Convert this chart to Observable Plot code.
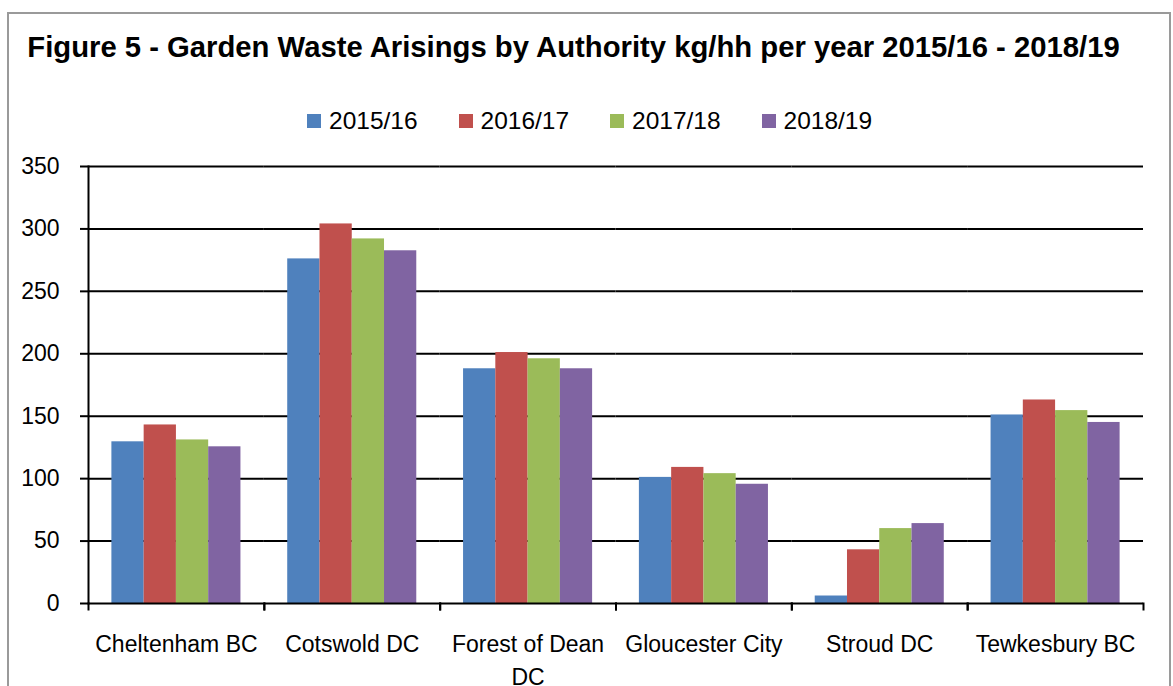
<!DOCTYPE html>
<html><head><meta charset="utf-8">
<script src="https://cdn.jsdelivr.net/npm/d3@7"></script>
<script src="https://cdn.jsdelivr.net/npm/@observablehq/plot@0.6"></script>
<style>
html,body{margin:0;padding:0;background:#fff;width:1173px;height:686px;overflow:hidden;font-family:"Liberation Sans",Arial,sans-serif;color:#000;}
#border{position:absolute;left:7px;top:12px;width:1164px;height:720px;border:2px solid #9a9a9a;box-sizing:border-box;}
#title{position:absolute;left:27px;top:30px;width:1093px;text-align:center;font-weight:bold;white-space:nowrap;font-size:25px;line-height:34px;}
#legend{position:absolute;left:307px;top:106px;height:30px;display:flex;}
.item{display:flex;align-items:center;width:151.5px;font-size:24.5px;line-height:30px;}
.sw{width:14px;height:14px;margin-right:8px;flex:none;}
#chart{position:absolute;left:0;top:150px;}
</style></head><body>
<div id="border"></div>
<div id="title"><span id="tt"></span></div>
<div id="legend"></div>
<div id="chart"></div>
<script>
const titleText = "Figure 5 - Garden Waste Arisings by Authority kg/hh per year 2015/16 - 2018/19";
const authorities = ["Cheltenham BC", "Cotswold DC", "Forest of Dean DC", "Gloucester City", "Stroud DC", "Tewkesbury BC"];
const years = ["2015/16", "2016/17", "2017/18", "2018/19"];
const values2015 = [129.5, 276, 188, 101, 6, 151];
const values2016 = [143, 304, 201, 109, 43, 163];
const values2017 = [131, 292, 196, 104, 60, 154.5];
const values2018 = [125.5, 282.5, 188, 95.5, 64, 145];
const yTicks = [0, 50, 100, 150, 200, 250, 300, 350];
const colors = ["#4F81BD", "#C0504D", "#9BBB59", "#8064A2"];

const series = [values2015, values2016, values2017, values2018];
const rows = authorities.flatMap((a, i) => years.map((y, j) => ({authority: a, year: y, value: series[j][i]})));

const wrap = d => d.length > 15 ? d.replace(/ (\S+)$/, "\n$1") : d;
const plotH = 437;

const chart = Plot.plot({
  width: 1173, height: 536,
  marginLeft: 88, marginRight: 30, marginTop: 16, marginBottom: 83,
  style: {fontFamily: '"Liberation Sans", Arial, sans-serif', fontSize: "23px", color: "#000", background: "transparent", overflow: "visible"},
  fx: {domain: authorities, padding: 0, round: false, label: null},
  x: {domain: years, paddingInner: 0, paddingOuter: 0.725, round: false, axis: null},
  y: {domain: [0, 350], label: null, axis: null},
  color: {domain: years, range: colors},
  marks: [
    Plot.ruleY(yTicks.filter(t => t > 0), {stroke: "#000", strokeWidth: 2}),
    Plot.barY(rows, {fx: "authority", x: "year", y: "value", fill: "year"}),
    Plot.ruleY([0], {stroke: "#000", strokeWidth: 2}),
    Plot.frame({anchor: "left", insetTop: plotH, insetBottom: -6, stroke: "#000", strokeWidth: 2}),
    Plot.frame({anchor: "right", insetTop: plotH, insetBottom: -6, stroke: "#000", strokeWidth: 2}),
    Plot.frame({anchor: "left", fx: [authorities[0]], stroke: "#000", strokeWidth: 2}),
    Plot.axisY({ticks: yTicks, tickSize: 8, tickPadding: 21, strokeWidth: 2, fontSize: 23, label: null}),
    Plot.axisFx({anchor: "bottom", tickSize: 0, tickPadding: 25, fontSize: 23, lineHeight: 1.43, tickFormat: wrap, label: null})
  ]
});
document.getElementById("chart").appendChild(chart);

const tt = document.getElementById("tt");
tt.textContent = titleText;
const w = tt.getBoundingClientRect().width;
tt.style.fontSize = (25 * 1093 / w) + "px";

const legend = document.getElementById("legend");
years.forEach((y, j) => {
  const item = document.createElement("div");
  item.className = "item";
  const sw = document.createElement("div");
  sw.className = "sw";
  sw.style.background = colors[j];
  const label = document.createElement("span");
  label.textContent = y;
  item.appendChild(sw);
  item.appendChild(label);
  legend.appendChild(item);
});
</script>
</body></html>
